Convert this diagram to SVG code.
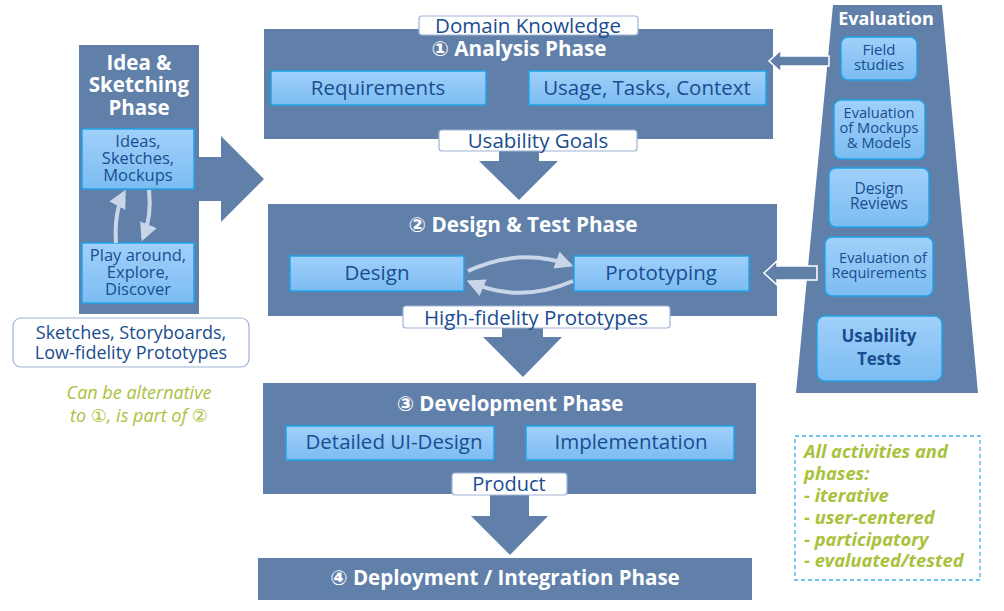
<svg xmlns="http://www.w3.org/2000/svg" width="1004" height="611" viewBox="0 0 1004 611">
<defs>
<linearGradient id="lb" x1="0" y1="0" x2="0" y2="1">
<stop offset="0" stop-color="#a0d0fa"/>
<stop offset="1" stop-color="#7cbcf2"/>
</linearGradient>
<marker id="ah" viewBox="0 0 10 10" refX="8" refY="5" markerWidth="4.5" markerHeight="4.5" orient="auto" markerUnits="strokeWidth">
<path d="M0,0 L10,5 L0,10 z" fill="#c9d6ea"/>
</marker>
<style>
.phase{fill:#6080aa;}
.box{fill:url(#lb);stroke:#1fa3e8;stroke-width:1.5;}
.lbl{fill:#fff;stroke:#9fb3d6;stroke-width:1.2;}
.t{font-family:"Open Sans","DejaVu Sans",sans-serif;fill:#1a4d8f;text-anchor:middle;}
.tw{font-family:"Open Sans","DejaVu Sans",sans-serif;fill:#fff;font-weight:bold;text-anchor:middle;}
.g{font-family:"Open Sans","DejaVu Sans",sans-serif;fill:#a8c23c;font-style:italic;}
.curve{fill:none;stroke:#c9d6ea;stroke-width:4;marker-end:url(#ah);}
.bigarrow{fill:#6080aa;}
.evarrow{fill:#6080aa;stroke:#fff;stroke-width:1.5;}
</style>
</defs>

<g id="evaluation">
<polygon class="phase" points="833,5 942,5 978,393 796,393"/>
<text class="tw" x="886" y="25" font-size="18">Evaluation</text>
</g>
<g id="field-studies">
<rect class="box" x="841" y="37" width="76" height="43" rx="7"/>
<text class="t" x="879" y="55" font-size="15">Field</text>
<text class="t" x="879" y="70" font-size="15">studies</text>
</g>
<g id="eval-mockups">
<rect class="box" x="834" y="100" width="91" height="59" rx="7"/>
<text class="t" x="879" y="118" font-size="14.6">Evaluation</text>
<text class="t" x="879" y="133" font-size="14.6">of Mockups</text>
<text class="t" x="879" y="148" font-size="14.6">&amp; Models</text>
</g>
<g id="design-reviews">
<rect class="box" x="829" y="168" width="100" height="59" rx="7"/>
<text class="t" x="879" y="194" font-size="15.5">Design</text>
<text class="t" x="879" y="209" font-size="15.5">Reviews</text>
</g>
<g id="eval-requirements">
<rect class="box" x="825" y="237" width="108" height="59" rx="7"/>
<text class="t" x="883" y="263" font-size="14.5">Evaluation of</text>
<text class="t" x="879" y="278" font-size="14.5">Requirements</text>
</g>
<g id="usability-tests">
<rect class="box" x="817" y="316" width="125" height="65" rx="8"/>
<text class="t" x="879" y="342" font-size="17" font-weight="bold">Usability</text>
<text class="t" x="879" y="365" font-size="17" font-weight="bold">Tests</text>
</g>

<g id="idea-phase">
<rect class="phase" x="79" y="45" width="120" height="269"/>
<text class="tw" x="139" y="70" font-size="20.5">Idea &amp;</text>
<text class="tw" x="139" y="92" font-size="20.5">Sketching</text>
<text class="tw" x="139" y="115" font-size="20.5">Phase</text>
</g>
<g id="ideas">
<rect class="box" x="82" y="129" width="112" height="60"/>
<text class="t" x="138" y="147" font-size="16.5">Ideas,</text>
<text class="t" x="138" y="164" font-size="16.5">Sketches,</text>
<text class="t" x="138" y="181" font-size="16.5">Mockups</text>
</g>
<g id="play-around">
<rect class="box" x="82" y="243" width="112" height="60"/>
<text class="t" x="138" y="261" font-size="16.5">Play around,</text>
<text class="t" x="138" y="278" font-size="16.5">Explore,</text>
<text class="t" x="138" y="295" font-size="16.5">Discover</text>
</g>
<g id="sketches-label">
<rect class="lbl" x="13" y="318" width="236" height="49" rx="8"/>
<text class="t" x="131" y="339" font-size="18">Sketches, Storyboards,</text>
<text class="t" x="131" y="359" font-size="18">Low-fidelity Prototypes</text>
</g>
<g id="note-alternative">
<text class="g" x="139" y="399" font-size="18" text-anchor="middle">Can be alternative</text>
<text class="g" x="139" y="422" font-size="18" text-anchor="middle">to ①, is part of ②</text>
</g>

<g id="analysis-phase">
<rect class="phase" x="264" y="29" width="509" height="110"/>
<text class="tw" x="519" y="56" font-size="20.7">① Analysis Phase</text>
</g>
<g id="requirements">
<rect class="box" x="271" y="71" width="215" height="34"/>
<text class="t" x="378" y="95" font-size="20.5">Requirements</text>
</g>
<g id="usage">
<rect class="box" x="529" y="71" width="237" height="34"/>
<text class="t" x="647" y="95" font-size="20.5">Usage, Tasks, Context</text>
</g>

<g id="design-phase">
<rect class="phase" x="268" y="204" width="509" height="112"/>
<text class="tw" x="523" y="232" font-size="20.7">② Design &amp; Test Phase</text>
</g>
<g id="design">
<rect class="box" x="290" y="256" width="174" height="35"/>
<text class="t" x="377" y="280" font-size="20.5">Design</text>
</g>
<g id="prototyping">
<rect class="box" x="574" y="256" width="175" height="35"/>
<text class="t" x="661" y="280" font-size="20.5">Prototyping</text>
</g>

<g id="development-phase">
<rect class="phase" x="263" y="383" width="493" height="111"/>
<text class="tw" x="510" y="411" font-size="20.5">③ Development Phase</text>
</g>
<g id="detailed-ui">
<rect class="box" x="286" y="426" width="208" height="34"/>
<text class="t" x="394" y="449" font-size="20.5">Detailed UI-Design</text>
</g>
<g id="implementation">
<rect class="box" x="526" y="426" width="208" height="34"/>
<text class="t" x="631" y="449" font-size="20.5">Implementation</text>
</g>

<g id="deployment-phase">
<rect class="phase" x="258" y="558" width="494" height="42"/>
<text class="tw" x="505" y="585" font-size="20.5">④ Deployment / Integration Phase</text>
</g>

<g id="connectors">
<path class="bigarrow" d="M199,157 L221,157 L221,136 L264,179 L221,222 L221,201 L199,201 z"/>
<path class="bigarrow" d="M499,150 L539,150 L539,161 L558,161 L519,200 L479,161 L499,161 z"/>
<path class="bigarrow" d="M502,327 L543,327 L543,337 L562,337 L523,377 L483,337 L502,337 z"/>
<path class="bigarrow" d="M490,494 L529,494 L529,516 L548,516 L510,555 L471,516 L490,516 z"/>
<path class="evarrow" d="M829,56 L781,56 L781,50 L769,61 L781,72 L781,66 L829,66 z"/>
<path class="evarrow" d="M817,266 L777,266 L777,261 L764,273 L777,285 L777,280 L817,280 z"/>
<path class="curve" d="M468,271 Q520,247 570,265"/>
<path class="curve" d="M573,281 Q520,304 470,282"/>
<path class="curve" d="M116,243 Q114,212 124,193"/>
<path class="curve" d="M149,190 Q152,216 143,238"/>
</g>

<g id="domain-knowledge">
<rect class="lbl" x="419" y="16" width="219" height="19" rx="3"/>
<text class="t" x="528" y="33" font-size="20.5">Domain Knowledge</text>
</g>
<g id="usability-goals">
<rect class="lbl" x="439" y="130" width="198" height="21" rx="3"/>
<text class="t" x="538" y="148" font-size="20.5">Usability Goals</text>
</g>
<g id="hifi-prototypes">
<rect class="lbl" x="403" y="306" width="267" height="22" rx="3"/>
<text class="t" x="536" y="325" font-size="20.5">High-fidelity Prototypes</text>
</g>
<g id="product">
<rect class="lbl" x="452" y="473" width="115" height="22" rx="3"/>
<text class="t" x="509" y="491" font-size="20">Product</text>
</g>

<g id="note-activities">
<rect x="795" y="436" width="185" height="144" fill="none" stroke="#3fb0ea" stroke-width="1.3" stroke-dasharray="4,3"/>
<text class="g" font-size="18.3" font-weight="bold">
<tspan x="804" y="458">All activities and</tspan>
<tspan x="804" y="480">phases:</tspan>
<tspan x="804" y="502">- iterative</tspan>
<tspan x="804" y="524">- user-centered</tspan>
<tspan x="804" y="546">- participatory</tspan>
<tspan x="804" y="567">- evaluated/tested</tspan>
</text>
</g>
</svg>
